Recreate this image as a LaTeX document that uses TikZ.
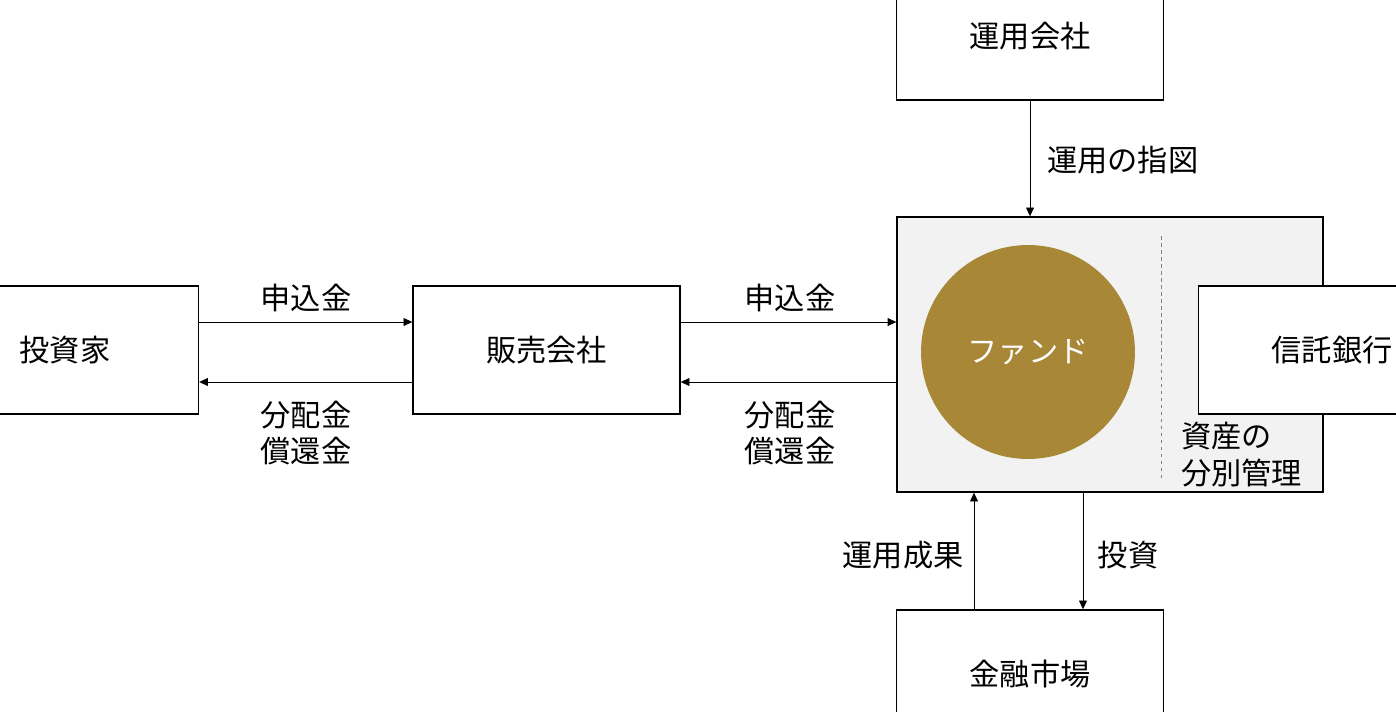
\documentclass[tikz,border=0pt]{standalone}
\usepackage{fontspec}
\setmainfont{Noto Sans CJK JP}
\usetikzlibrary{arrows.meta}
\definecolor{fundgold}{RGB}{168,135,55}
\definecolor{fundgray}{RGB}{242,242,242}
\tikzset{
  orgbox/.style={draw, line width=0.8pt, fill=white, minimum width=5.34cm, minimum height=2.56cm},
  flow/.style={line width=0.5pt, -{Triangle[length=5pt,width=4.5pt]}},
  lbl/.style={font=\fontsize{17.2}{21}\selectfont, align=center}
}

\begin{document}
\begin{tikzpicture}[x=0.02cm, y=-0.02cm, every node/.style={font=\fontsize{17.2}{21}\selectfont}]
  \useasboundingbox (0,0) rectangle (1396,711);
  \clip (0,0) rectangle (1396,711);
  % fund and its parts
  \node[draw, line width=0.8pt, fill=fundgray, minimum width=8.52cm, minimum height=5.5cm] (fund) at (1110,354.5) {};
  \node[circle, fill=fundgold, minimum size=4.28cm, text=white] (fd) at (1028,352) {ファンド};
  \draw[gray, line width=0.5pt, dash pattern=on 2pt off 2pt] (1161,236) coordinate (dtop) -- (1161,478) coordinate (dbot);
  \node[orgbox] (bank) at (1332,350) {信託銀行};
  \node[lbl, align=left, anchor=west] (sep) at (1175,455) {資産の\\分別管理};
  % organisations
  \node[orgbox] (inv) at (65,350) {投資家};
  \node[orgbox] (sell) at (546.5,350) {販売会社};
  \node[orgbox] (mgr) at (1030,36) {運用会社};
  \node[orgbox] (mkt) at (1030,674) {金融市場};
  % flows
  \draw[flow] ([yshift=0.56cm]inv.east) -- ([yshift=0.56cm]sell.west);
  \draw[flow] ([yshift=-0.64cm]sell.west) -- ([yshift=-0.64cm]inv.east);
  \draw[flow] ([yshift=0.56cm]sell.east) -- ([yshift=0.56cm]sell.east -| fund.west);
  \draw[flow] ([yshift=-0.64cm]sell.east -| fund.west) -- ([yshift=-0.64cm]sell.east);
  \draw[flow] (mgr.south) -- (mgr.south |- fund.north);
  \draw[flow] ([xshift=-1.12cm]mkt.north) -- ([xshift=-1.12cm]mkt.north |- fund.south);
  \draw[flow] ([xshift=1.06cm]mkt.north |- fund.south) -- ([xshift=1.06cm]mkt.north);
  % labels
  \node[lbl] (pay1) at (306,298) {申込金};
  \node[lbl] (ret1) at (306,433) {分配金\\償還金};
  \node[lbl] (pay2) at (790,298) {申込金};
  \node[lbl] (ret2) at (790,433) {分配金\\償還金};
  \node[lbl, anchor=west] (order) at (1041,160) {運用の指図};
  \node[lbl] (result) at (903,555) {運用成果};
  \node[lbl] (invest) at (1128,555) {投資};
\end{tikzpicture}
\end{document}
